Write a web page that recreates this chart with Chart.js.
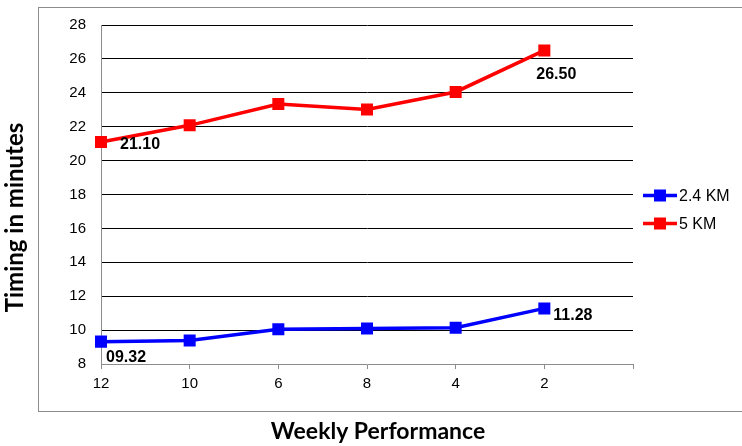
<!DOCTYPE html>
<html>
<head>
<meta charset="utf-8">
<script src="https://cdn.jsdelivr.net/npm/chart.js@4/dist/chart.umd.min.js"></script>
<style>
  html, body { margin: 0; padding: 0; background: #ffffff; }
  #wrap { position: relative; width: 742px; height: 446px; overflow: hidden; }
  #frame { position: absolute; left: 38px; top: 7px; width: 760px; height: 405px;
           border: 1px solid #8c8c8c; box-sizing: border-box; pointer-events: none; }
  canvas { position: absolute; left: 0; top: 0; }
</style>
</head>
<body>
<div id="wrap">
  <canvas id="chart" width="742" height="446"></canvas>
  <div id="frame"></div>
</div>
<script>
// Week labels along the x axis (last slot left empty)
const weeks = ['12', '10', '6', '8', '4', '2', ''];
// Timings in minutes
const run24km = [9.32, 9.38, 10.05, 10.10, 10.14, 11.28];
const run5km = [21.10, 22.08, 23.34, 23.02, 24.05, 26.50];
const seriesNames = ['2.4 KM', '5 KM'];
const seriesColors = ['#0000ff', '#ff0000'];
const xTitle = 'Weekly Performance';
const yTitle = 'Timing in minutes';

const BASE_FONT = '"Liberation Sans", Arial, sans-serif';
const TITLE_FONT = 'Lato, "Open Sans", sans-serif';

// Value callouts on the first and last points of each run
const valueLabels = {
  id: 'valueLabels',
  afterDatasetsDraw(chart, args, opts) {
    const ctx = chart.ctx;
    ctx.save();
    ctx.font = 'bold 16px ' + BASE_FONT;
    ctx.fillStyle = '#000000';
    ctx.textBaseline = 'middle';
    opts.items.forEach(it => {
      const meta = chart.getDatasetMeta(it.dataset);
      const el = meta.data[it.index];
      const v = chart.data.datasets[it.dataset].data[it.index];
      const txt = v.toFixed(2).padStart(5, '0');
      ctx.textAlign = it.align;
      ctx.fillText(txt, el.x + it.dx, el.y + it.dy);
    });
    ctx.restore();
  }
};

// Series key to the right of the plot: line, square marker, name
const seriesKey = {
  id: 'seriesKey',
  afterDraw(chart) {
    const ctx = chart.ctx;
    const area = chart.chartArea;
    const x0 = area.right + 10;
    const midY = (area.top + area.bottom) / 2;
    ctx.save();
    ctx.font = '16px ' + BASE_FONT;
    ctx.textBaseline = 'middle';
    ctx.textAlign = 'left';
    chart.data.datasets.forEach((ds, i) => {
      const y = midY + 1 + i * 28;
      ctx.strokeStyle = ds.borderColor;
      ctx.lineWidth = 3.5;
      ctx.beginPath();
      ctx.moveTo(x0, y);
      ctx.lineTo(x0 + 34, y);
      ctx.stroke();
      ctx.fillStyle = ds.borderColor;
      ctx.fillRect(x0 + 11, y - 6, 12, 12);
      ctx.fillStyle = '#000000';
      ctx.fillText(ds.label, x0 + 36, y + 1);
    });
    ctx.restore();
  }
};

// Axis titles, placed beside the plot
const axisTitles = {
  id: 'axisTitles',
  afterDraw(chart) {
    const ctx = chart.ctx;
    const area = chart.chartArea;
    ctx.save();
    ctx.fillStyle = '#000000';
    ctx.textAlign = 'center';
    ctx.textBaseline = 'middle';
    ctx.font = 'bold 23px ' + TITLE_FONT;
    ctx.fillText(xTitle, (area.left + area.right) / 2 + 11, chart.height - 14);
    ctx.font = 'bold 24px ' + TITLE_FONT;
    ctx.translate(15, (area.top + area.bottom) / 2 + 23);
    ctx.rotate(-Math.PI / 2);
    ctx.fillText(yTitle, 0, 0);
    ctx.restore();
  }
};

new Chart(document.getElementById('chart'), {
  type: 'line',
  data: {
    labels: weeks,
    datasets: [
      {
        label: seriesNames[0],
        data: run24km,
        borderColor: seriesColors[0],
        backgroundColor: seriesColors[0],
        borderWidth: 3.5,
        pointStyle: 'rect',
        pointRadius: 8.5,
        pointHoverRadius: 8.5,
        pointBorderWidth: 0,
        tension: 0
      },
      {
        label: seriesNames[1],
        data: run5km,
        borderColor: seriesColors[1],
        backgroundColor: seriesColors[1],
        borderWidth: 3.5,
        pointStyle: 'rect',
        pointRadius: 8.5,
        pointHoverRadius: 8.5,
        pointBorderWidth: 0,
        tension: 0
      }
    ]
  },
  options: {
    responsive: false,
    animation: false,
    events: [],
    layout: { padding: { left: 0, right: 109, top: 25, bottom: 0 } },
    plugins: {
      legend: { display: false },
      tooltip: { enabled: false },
      valueLabels: {
        items: [
          { dataset: 0, index: 0, dx: 5, dy: 16, align: 'left' },
          { dataset: 0, index: 5, dx: 9, dy: 7, align: 'left' },
          { dataset: 1, index: 0, dx: 19, dy: 3, align: 'left' },
          { dataset: 1, index: 5, dx: 12, dy: 24, align: 'center' }
        ]
      }
    },
    scales: {
      x: {
        type: 'category',
        offset: false,
        afterFit(scale) { scale.height = 82; },
        grid: {
          drawOnChartArea: false,
          drawTicks: true,
          tickLength: 5,
          color: '#8c8c8c'
        },
        border: { display: true, color: '#8c8c8c', width: 1 },
        ticks: {
          autoSkip: false,
          maxRotation: 0,
          padding: 6,
          color: '#000000',
          font: { family: BASE_FONT, size: 15 }
        }
      },
      y: {
        min: 8,
        max: 28,
        afterFit(scale) { scale.width = 101; },
        grid: {
          drawTicks: false,
          color: ctx => (ctx.tick && ctx.tick.value === 8) ? 'rgba(0,0,0,0)' : '#000000',
          lineWidth: 1
        },
        border: { display: true, color: '#8c8c8c', width: 1 },
        ticks: {
          stepSize: 2,
          padding: 15,
          color: '#000000',
          font: { family: BASE_FONT, size: 15 }
        }
      }
    }
  },
  plugins: [valueLabels, seriesKey, axisTitles]
});
</script>
</body>
</html>
